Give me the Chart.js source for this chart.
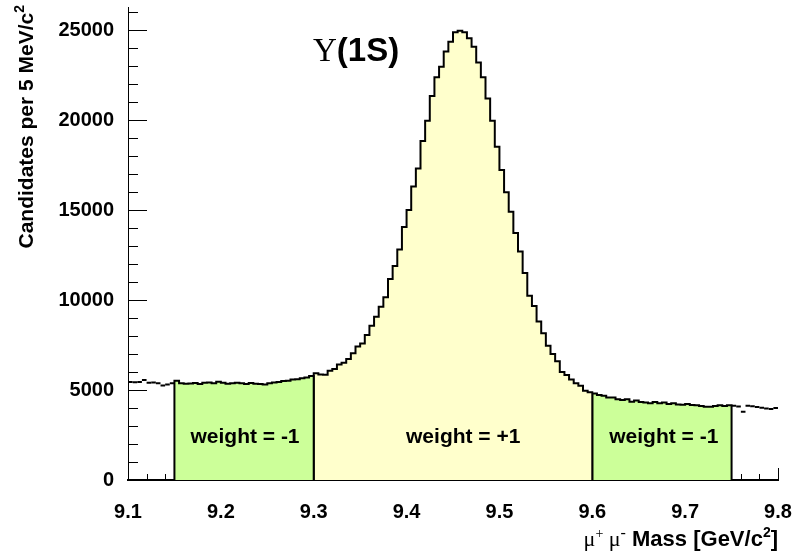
<!DOCTYPE html>
<html>
<head>
<meta charset="utf-8">
<script src="https://cdn.jsdelivr.net/npm/chart.js@4.4.0/dist/chart.umd.min.js"></script>
<style>
  html, body { margin: 0; padding: 0; background: #fff; }
  #wrap { width: 793px; height: 556px; }
</style>
</head>
<body>
<div id="wrap"><canvas id="massChart" width="793" height="556"></canvas></div>
<script>
// mu+ mu- invariant mass, 5 MeV/c^2 bins between 9.10 and 9.80 GeV/c^2
const xMin = 9.1;
const xMax = 9.8;
const binWidth = 0.005;
const yMax = 26250;

// 9.100 - 9.150, outside the sidebands
const lowOutside = [5450, 5430, 5440, 5560, 5400, 5410, 5380, 5250, 5300, 5370];

// 9.150 - 9.300, left sideband
const leftSideband = [
  5520, 5370, 5350, 5360, 5390, 5340, 5400, 5420, 5380, 5460,
  5400, 5350, 5380, 5400, 5370, 5330, 5390, 5350, 5330, 5300,
  5380, 5420, 5450, 5500, 5520, 5580, 5600, 5650, 5700, 5780
];

// 9.300 - 9.600, signal window
const signalWindow = [
  5930, 5860, 5850, 6070, 6170, 6420, 6520, 6720, 7040, 7410,
  7590, 8060, 8570, 9070, 9630, 10150, 11170, 11890, 12800, 14050,
  15000, 16300, 17310, 18830, 19960, 21330, 22370, 22960, 23800, 24350,
  24870, 24960, 24870, 24540, 24070, 23200, 22370, 21200, 19960, 18520,
  17220, 15980, 14900, 13720, 12700, 11500, 10240, 9670, 8800, 8150,
  7460, 7000, 6600, 6000, 5830, 5590, 5370, 5240, 4960, 4880
];

// 9.600 - 9.750, right sideband
const rightSideband = [
  4810, 4720, 4680, 4590, 4590, 4480, 4440, 4480, 4350, 4410,
  4330, 4300, 4260, 4330, 4260, 4300, 4220, 4260, 4200, 4180,
  4220, 4170, 4150, 4110, 4070, 4070, 4110, 4150, 4110, 4150
];

// 9.750 - 9.800, outside the sidebands
const highOutside = [4130, 4090, 3790, 4120, 4100, 4060, 4010, 3970, 3950, 4000];

const yTickValues = [0, 5000, 10000, 15000, 20000, 25000];
const xTickValues = [9.1, 9.2, 9.3, 9.4, 9.5, 9.6, 9.7, 9.8];

// weight labels and the mass at which each is centred
const weightLabels = ['weight = -1', 'weight = +1', 'weight = -1'];
const weightLabelMass = [9.226, 9.461, 9.677];

const sans = '"Liberation Sans", Arial, Helvetica, sans-serif';
const serif = '"Liberation Serif", "Times New Roman", serif';

// histogram bins as a closed step outline: up at the first edge, down at the last
function stepPoints(values, firstBin) {
  const x0 = xMin + firstBin * binWidth;
  const pts = [{ x: x0, y: 0 }];
  values.forEach((v, i) => pts.push({ x: x0 + i * binWidth, y: v }));
  pts.push({ x: x0 + values.length * binWidth, y: 0 });
  return pts;
}

function binCentres(values, firstBin) {
  return values.map((v, i) => ({ x: xMin + (firstBin + i + 0.5) * binWidth, y: v }));
}

function region(values, firstBin, colour) {
  return {
    data: stepPoints(values, firstBin),
    stepped: 'before',
    fill: 'origin',
    backgroundColor: colour,
    borderColor: '#000',
    borderWidth: 2,
    borderJoinStyle: 'miter',
    pointRadius: 0
  };
}

function outside(values, firstBin) {
  return {
    data: binCentres(values, firstBin),
    showLine: false,
    pointStyle: 'line',
    pointRadius: 2.3,
    pointBorderWidth: 2,
    pointBorderColor: '#000',
    pointBackgroundColor: '#000'
  };
}

// draws text made of several pieces (fonts / superscripts)
function drawRich(ctx, parts, x, y, align) {
  let total = 0;
  parts.forEach(p => { ctx.font = p[1]; total += ctx.measureText(p[0]).width; });
  let cx = align === 'right' ? x - total : align === 'center' ? x - total / 2 : x;
  parts.forEach(p => {
    ctx.font = p[1];
    ctx.fillText(p[0], cx, y - (p[2] || 0));
    cx += ctx.measureText(p[0]).width;
  });
}

const decorations = {
  id: 'decorations',
  // inward tick marks, underneath the filled histograms
  beforeDatasetsDraw(chart) {
    const { ctx, scales: { x, y } } = chart;
    ctx.save();
    ctx.strokeStyle = '#000';
    ctx.lineWidth = 1;
    for (let v = 0; v <= yMax; v += 1000) {
      const py = Math.round(y.getPixelForValue(v)) + 0.5;
      const len = v % 5000 === 0 ? 19 : 10;
      ctx.beginPath();
      ctx.moveTo(x.left, py);
      ctx.lineTo(x.left + len, py);
      ctx.stroke();
    }
    for (let i = 0; i <= 35; i++) {
      const px = Math.round(x.getPixelForValue(xMin + i * 0.02)) + 0.5;
      const len = i % 5 === 0 ? 12 : 6;
      ctx.beginPath();
      ctx.moveTo(px, y.bottom);
      ctx.lineTo(px, y.bottom - len);
      ctx.stroke();
    }
    ctx.restore();
  },
  afterDraw(chart) {
    const { ctx, scales: { x } } = chart;
    ctx.save();
    ctx.fillStyle = '#000';
    ctx.textBaseline = 'alphabetic';
    ctx.textAlign = 'left';

    // resonance name
    drawRich(ctx, [
      ['\u03A5', '33px ' + serif],
      ['(1S)', 'bold 33px ' + sans]
    ], 313, 61, 'left');

    // sideband / signal weights
    weightLabels.forEach((t, i) => {
      drawRich(ctx, [[t, 'bold 21px ' + sans]], x.getPixelForValue(weightLabelMass[i]), 443, 'center');
    });

    // x axis title
    drawRich(ctx, [
      ['\u03BC', '22px ' + serif],
      ['+', '14px ' + serif, 8],
      [' \u03BC', '22px ' + serif],
      ['-', '16px ' + serif, 8],
      [' Mass [GeV/c', 'bold 22px ' + sans],
      ['2', 'bold 14px ' + sans, 9],
      [']', 'bold 22px ' + sans]
    ], 778, 546, 'right');

    // y axis title, rotated
    ctx.translate(33, 0);
    ctx.rotate(-Math.PI / 2);
    drawRich(ctx, [
      ['Candidates per 5 MeV/c', 'bold 21px ' + sans],
      ['2', 'bold 14px ' + sans, 9]
    ], -5, 0, 'right');
    ctx.restore();
  }
};

new Chart(document.getElementById('massChart'), {
  type: 'line',
  data: {
    datasets: [
      outside(lowOutside, 0),
      region(leftSideband, 10, '#ccff99'),
      region(signalWindow, 40, '#ffffcc'),
      region(rightSideband, 100, '#ccff99'),
      outside(highOutside, 130)
    ]
  },
  options: {
    responsive: false,
    animation: false,
    devicePixelRatio: 1,
    layout: { padding: { top: 7.5, right: 15, left: 0, bottom: 0 } },
    plugins: { legend: { display: false }, tooltip: { enabled: false } },
    scales: {
      x: {
        type: 'linear',
        min: xMin,
        max: xMax,
        z: 1,
        grid: { display: false },
        border: { display: true, color: '#000', width: 2 },
        afterBuildTicks: s => { s.ticks = xTickValues.map(v => ({ value: v })); },
        afterFit: s => { s.height = 76; s.paddingLeft = 0; s.paddingRight = 0; },
        ticks: {
          autoSkip: false,
          maxRotation: 0,
          padding: 12,
          color: '#000',
          font: { family: sans, weight: 'bold', size: 20 },
          callback: v => v.toFixed(1)
        }
      },
      y: {
        type: 'linear',
        min: 0,
        max: yMax,
        grid: { display: false },
        border: { display: true, color: '#000', width: 1 },
        afterBuildTicks: s => { s.ticks = yTickValues.map(v => ({ value: v })); },
        afterFit: s => { s.width = 128; s.paddingTop = 0; s.paddingBottom = 0; },
        ticks: {
          padding: 6,
          color: '#000',
          font: { family: sans, weight: 'bold', size: 20 },
          callback: v => String(v)
        }
      }
    }
  },
  plugins: [decorations]
});
</script>
</body>
</html>
